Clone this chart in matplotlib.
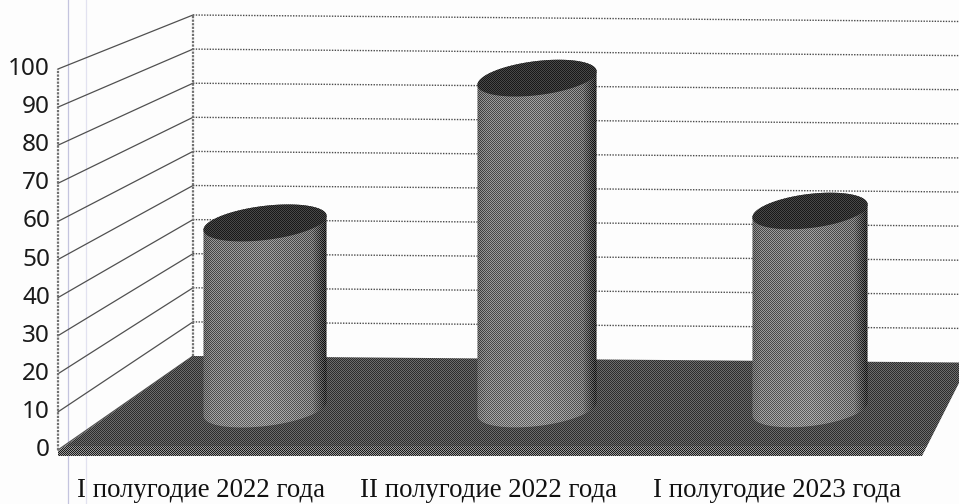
import numpy as np
import matplotlib
matplotlib.use("Agg")
import matplotlib.pyplot as plt
from matplotlib.patches import Polygon

categories = ["I полугодие 2022 года", "II полугодие 2022 года", "I полугодие 2023 года"]
values = [51.4, 91.4, 54.7]
ticks = [0, 10, 20, 30, 40, 50, 60, 70, 80, 90, 100]

W, H = 959, 504
FRONT_X, FRONT_Y0, FRONT_K = 58, 450, 3.81   # front edge of the side wall
BACK_X, BACK_Y0, BACK_K = 193, 356, 3.41     # back wall
BACK_TILT = 6.5 / 766                        # scan is a bit rotated
MID_Y0, MID_K = 409, 3.62                    # where the cylinders stand
TILT = np.radians(-7)


def front_y(v):
    return FRONT_Y0 - v * FRONT_K


def back_y(v, x=BACK_X):
    return BACK_Y0 - v * BACK_K + (x - BACK_X) * BACK_TILT


def ellipse(cx, cy, rx, ry, t):
    x = rx * np.cos(t)
    y = ry * np.sin(t)
    return np.column_stack([cx + x * np.cos(TILT) - y * np.sin(TILT),
                            cy + x * np.sin(TILT) + y * np.cos(TILT)])


def checker():
    yy, xx = np.mgrid[0:H, 0:W]
    return ((xx + yy) % 2) * 2.0 - 1.0


fig = plt.figure(figsize=(W / 100, H / 100), dpi=100, facecolor="#fdfdfd")
ax = fig.add_axes([0, 0, 1, 1])
ax.set_xlim(0, W)
ax.set_ylim(H, 0)
ax.axis("off")

# margin lines of the sheet
for x, c in ((68, "#c4c4de"), (86, "#e2e2f0")):
    ax.plot([x, x], [0, H], color=c, lw=0.9, zorder=1)

# grid
for v in ticks[1:]:
    ax.plot([BACK_X, W], [back_y(v), back_y(v, W)], color="#4a4a4a", lw=1.0,
            ls=(0, (1, 1)), zorder=2)
for v in ticks:
    ax.plot([FRONT_X, BACK_X], [front_y(v), back_y(v)], color="#505050", lw=0.9, zorder=2)
ax.plot([FRONT_X, FRONT_X], [front_y(0), front_y(100)], color="#707070", lw=1.6,
        ls=(0, (1, 0.6)), zorder=2)
ax.plot([BACK_X, BACK_X], [back_y(0), back_y(100)], color="#707070", lw=1.6,
        ls=(0, (1, 0.6)), zorder=2)

# floor
chk = checker()
floor = Polygon([(FRONT_X, FRONT_Y0 + 1), (BACK_X, BACK_Y0), (W, back_y(0, W)), (W, 383),
                 (922, 456), (FRONT_X, 456)], closed=True, fc="none", ec="none")
ax.add_patch(floor)
yy = np.arange(H)[:, None] * np.ones((1, W))
floor_img = 76 + 14 * (yy > 445) + (32 + 30 * (yy > 445)) * chk
im = ax.imshow(floor_img, cmap="gray", vmin=0, vmax=255, extent=(0, W, H, 0),
               interpolation="nearest", zorder=3, aspect="auto")
im.set_clip_path(floor)

# cylinders
centers = [265, 537, 810]
radii = [62, 60, 58]
for cx, rx, val in zip(centers, radii, values):
    ry = 17
    top = MID_Y0 - val * MID_K
    low = ellipse(cx, MID_Y0, rx, ry, np.linspace(np.pi, 0, 60))
    upper = ellipse(cx, top, rx, ry, np.linspace(0, -np.pi, 60))
    body = Polygon(np.vstack([low, upper]), closed=True, fc="none", ec="none")
    ax.add_patch(body)
    xs = (np.arange(W) + 0.5 - (cx - rx)) / (2 * rx)
    shade = np.interp(xs, [0, 0.08, 0.5, 0.88, 0.95, 1.0], [98, 112, 122, 108, 70, 42])
    ramp = np.interp(yy, [MID_Y0 - 60, MID_Y0 + 20], [0, 14])
    im = ax.imshow(shade[None, :] + ramp + 42 * chk, cmap="gray", vmin=0, vmax=255,
                   extent=(0, W, H, 0), interpolation="nearest", zorder=4, aspect="auto")
    im.set_clip_path(body)
    lid = Polygon(ellipse(cx, top, rx, ry, np.linspace(0, 2 * np.pi, 120)), closed=True,
                  fc="none", ec="none")
    ax.add_patch(lid)
    im = ax.imshow(48 + 24 * chk, cmap="gray", vmin=0, vmax=255, extent=(0, W, H, 0),
                   interpolation="nearest", zorder=5, aspect="auto")
    im.set_clip_path(lid)

# text
for v in ticks:
    ax.text(50, front_y(v), str(v), ha="right", va="center", fontsize=17.5,
            family="Noto Sans", color="#1a1a1a", zorder=6)
for x, label in zip([201, 489, 777], categories):
    ax.text(x, 490.5, label, ha="center", va="center", fontsize=19.3,
            family="Liberation Serif", color="#111111", zorder=6)

ax.set_xlim(0, W)
ax.set_ylim(H, 0)
fig.savefig("out.png", dpi=100, facecolor=fig.get_facecolor())
